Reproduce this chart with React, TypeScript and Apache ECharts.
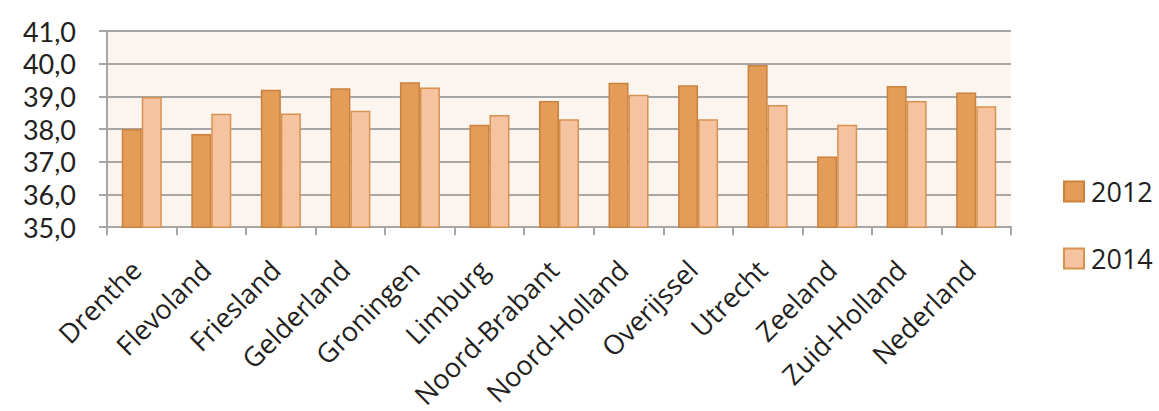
import React, { useEffect, useRef } from "react";
import * as echarts from "echarts";

const categories = [
  "Drenthe", "Flevoland", "Friesland", "Gelderland", "Groningen", "Limburg",
  "Noord-Brabant", "Noord-Holland", "Overijssel", "Utrecht", "Zeeland",
  "Zuid-Holland", "Nederland",
];
const values2012 = [38.0, 37.85, 39.2, 39.25, 39.43, 38.13, 38.86, 39.42, 39.34, 39.96, 37.16, 39.32, 39.12];
const values2014 = [38.98, 38.47, 38.48, 38.56, 39.27, 38.43, 38.3, 39.05, 38.3, 38.74, 38.13, 38.86, 38.7];
const seriesNames = ["2012", "2014"];

const FONT = "'Open Sans', 'Noto Sans', sans-serif";
const TEXT = "#231F20";
const GRID = "#A6A6A6";

export default function App() {
  const ref = useRef<HTMLDivElement>(null);
  useEffect(() => {
    if (!ref.current) return;
    const chart = echarts.init(ref.current, undefined, { renderer: "svg" });
    chart.setOption({
      animation: false,
      backgroundColor: "#ffffff",
      textStyle: { fontFamily: FONT, color: TEXT },
      grid: {
        left: 107, right: 148, top: 31, bottom: 183,
        show: true, backgroundColor: "#FCF4EE", borderWidth: 0,
      },
      legend: {
        orient: "vertical",
        left: 1063,
        top: 178,
        padding: 0,
        itemWidth: 20,
        itemHeight: 20,
        itemGap: 40,
        icon: "rect",
        textStyle: { fontFamily: FONT, fontSize: 27, lineHeight: 20, color: TEXT, padding: [0, 0, 0, 2] },
        data: seriesNames,
      },
      xAxis: {
        type: "category",
        data: categories,
        axisLine: { show: true, lineStyle: { color: GRID, width: 2 } },
        axisTick: { show: true, length: 8, lineStyle: { color: GRID, width: 2 } },
        axisLabel: {
          rotate: 45, fontSize: 27, color: TEXT, fontFamily: FONT, margin: 32, interval: 0,
          padding: [0, 8, 0, 0],
        },
      },
      yAxis: {
        type: "value",
        min: 35,
        max: 41,
        interval: 1,
        axisLine: { show: true, lineStyle: { color: GRID, width: 2 } },
        axisTick: { show: true, length: 8, lineStyle: { color: GRID, width: 2 } },
        splitLine: { show: true, lineStyle: { color: GRID, width: 2 } },
        axisLabel: {
          fontSize: 27, lineHeight: 27, color: TEXT, fontFamily: "Lato, 'Open Sans', sans-serif", margin: 31,
          formatter: (v: number) => v.toFixed(1).replace(".", ","),
        },
      },
      series: [
        {
          name: seriesNames[0],
          type: "bar",
          data: values2012,
          barWidth: 20,
          barGap: "0%",
          itemStyle: { color: "#E49D58", borderColor: "#C9813C", borderWidth: 1.5 },
        },
        {
          name: seriesNames[1],
          type: "bar",
          data: values2014,
          barWidth: 20,
          barGap: "0%",
          itemStyle: { color: "#F6C3A1", borderColor: "#D8924F", borderWidth: 1.5 },
        },
      ],
    });
    return () => chart.dispose();
  }, []);
  return (
    <div
      ref={ref}
      style={{ position: "absolute", left: 0, top: 0, width: 1159, height: 411 }}
    />
  );
}
